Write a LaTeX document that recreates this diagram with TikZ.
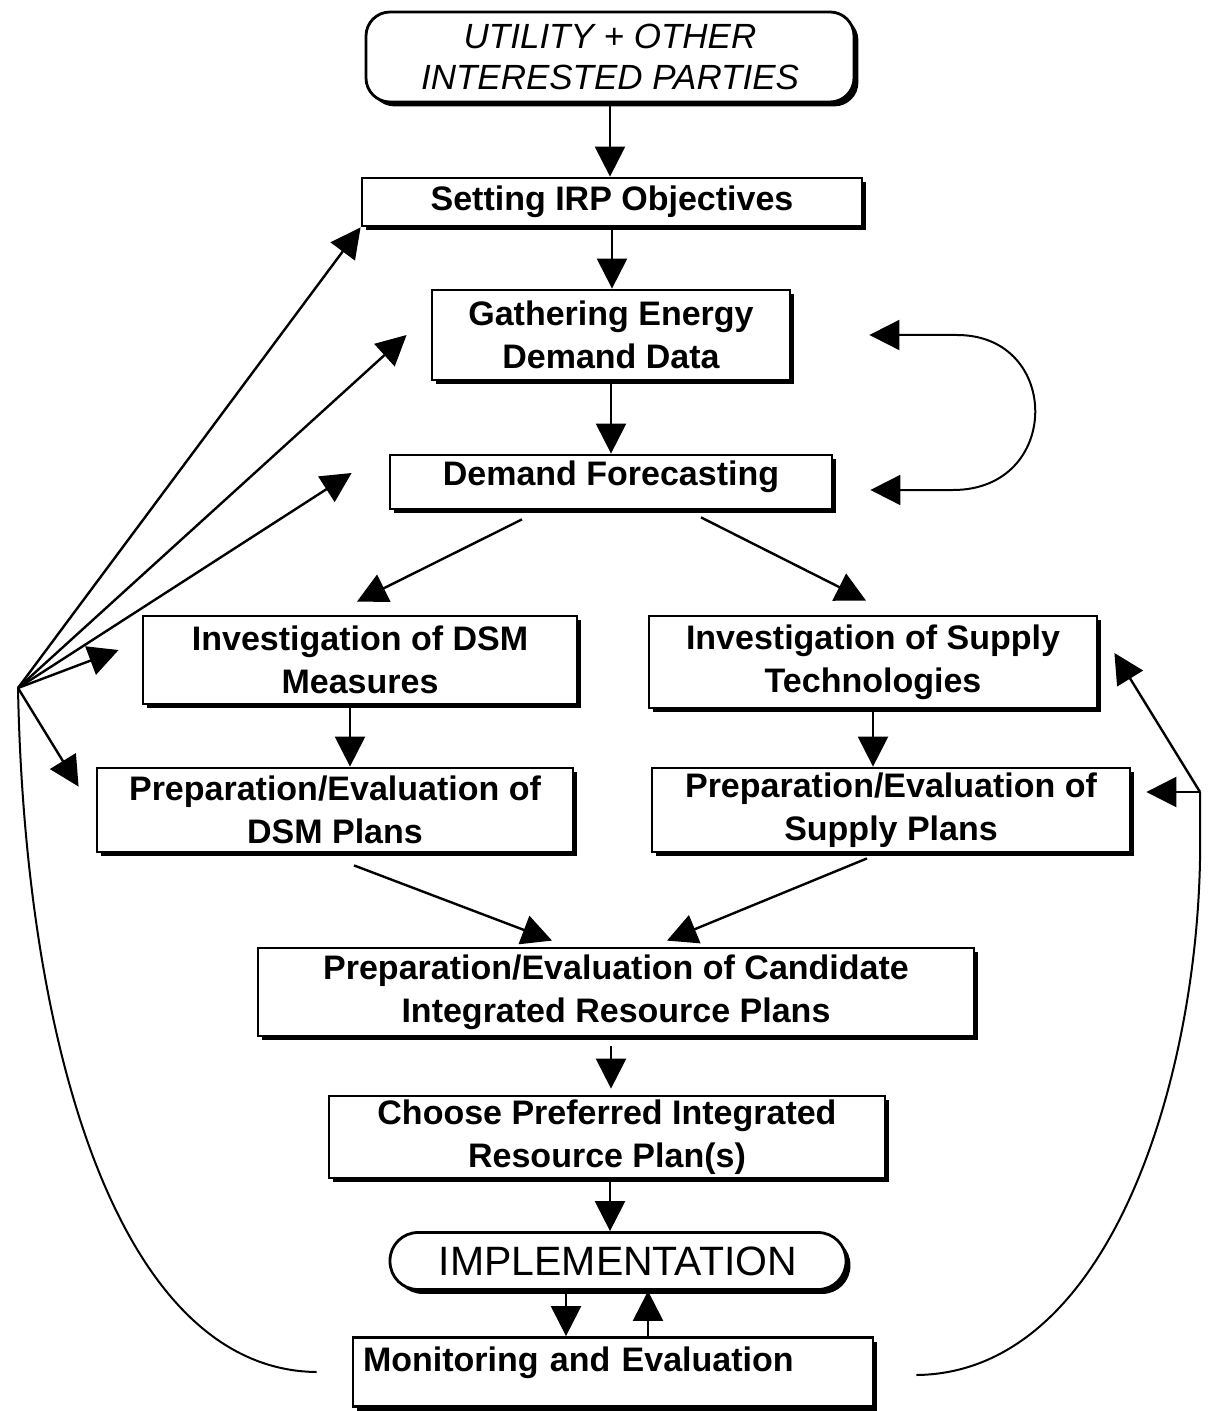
\documentclass[tikz,border=0pt]{standalone}
\usepackage{fontspec}
\setmainfont{Liberation Sans}
\usetikzlibrary{arrows.meta,calc,shadows}

\tikzset{
  stage/.style={draw, line width=1.4pt, fill=white, inner sep=0pt, align=center,
    font=\bfseries\fontsize{17}{21.5}\selectfont,
    drop shadow={shadow xshift=2.2pt, shadow yshift=-2.2pt, opacity=1, fill=black}},
  party/.style={stage, rounded corners=12pt, font=\itshape\fontsize{17.5}{20.5}\selectfont},
  flow/.style={-{Triangle[length=15pt,width=15pt]}, line width=1.2pt},
  loop/.style={line width=1pt}
}

\begin{document}
\begin{tikzpicture}[x=0.5pt,y=-0.5pt]
  \useasboundingbox (0,0) rectangle (1210,1411);

  % the stages
  \node[party, minimum width=244pt, minimum height=45pt] (util) at (610,57) {UTILITY + OTHER\\INTERESTED PARTIES};
  \node[stage, minimum width=250pt, minimum height=24pt] (set) at (612,202) {Setting IRP Objectives};
  \node[stage, minimum width=179pt, minimum height=45pt] (gath) at (611,335) {Gathering Energy\\Demand Data};
  \node[stage, minimum width=221pt, minimum height=27pt, text depth=9.3pt] (fore) at (611,482) {Demand Forecasting};
  \node[stage, minimum width=217pt, minimum height=44pt] (dsm) at (360,660) {Investigation of DSM\\Measures};
  \node[stage, minimum width=224pt, minimum height=46pt] (sup) at (873,662) {Investigation of Supply\\Technologies};
  \node[stage, minimum width=238pt, minimum height=42pt] (pdsm) at (335,810) {Preparation/Evaluation of\\DSM Plans};
  \node[stage, minimum width=239pt, minimum height=42pt] (psup) at (891,810) {Preparation/Evaluation of\\Supply Plans};
  \node[stage, minimum width=358pt, minimum height=44pt] (cand) at (616,992) {Preparation/Evaluation of Candidate\\Integrated Resource Plans};
  \node[stage, minimum width=278pt, minimum height=41pt] (choose) at (607,1137) {Choose Preferred Integrated\\Resource Plan(s)};
  \node[stage, rounded corners=14pt, minimum width=228pt, minimum height=28.5pt,
        font=\fontsize{20.5}{24}\selectfont] (impl) at (618,1261) {IMPLEMENTATION};
  \node[stage, minimum width=260pt, minimum height=34.5pt, inner xsep=5pt, text width=250pt,
        align=left, text depth=12.8pt] (mon) at (613,1372) {Monitoring and Evaluation};

  % main flow
  \draw[flow] (util.south) -- (util.south |- set.north);
  \draw[flow] (set.south) -- (set.south |- gath.north);
  \draw[flow] (gath.south) -- (gath.south |- fore.north);
  \draw[flow] ($(fore.south)+(-89,9)$) -- ($(dsm.north)+(-3,-13)$);
  \draw[flow] ($(fore.south)+(90,7)$) -- ($(sup.north)+(-7,-14)$);
  \coordinate (dsmout) at ([xshift=-5pt]dsm.south);
  \draw[flow] (dsmout) -- (dsmout |- pdsm.north);
  \draw[flow] (sup.south) -- (sup.south |- psup.north);
  \draw[flow] ($(pdsm.south)+(19,12)$) -- ($(cand.north)+(-64,-6)$);
  \draw[flow] ($(psup.south)+(-24,5)$) -- ($(cand.north)+(51,-6)$);
  \draw[flow] ($(cand.south)+(-5,9)$) -- ($(choose.north)+(4,-6)$);
  \draw[flow] ($(choose.south)+(3,0)$) -- ($(impl.north)+(-8,0)$);
  \draw[flow] ($(impl.south)+(-52,0)$) -- ($(mon.north)+(-47,0)$);
  \draw[flow] ($(mon.north)+(35,0)$) -- ($(impl.south)+(30,0)$);

  % feedback from monitoring, left side
  \coordinate (hub) at (18,688);
  \draw[flow] (hub) -- (set.south west);
  \draw[flow] (hub) -- ($(gath.west)+(-24,0)$);
  \draw[flow] (hub) -- ($(fore.west)+(-37,-9)$);
  \draw[flow] (hub) -- ($(dsm.west)+(-23,-10)$);
  \draw[flow] (hub) -- ($(pdsm.north west)+(-17,20)$);
  \draw[loop] (hub) .. controls (25,1050) and (120,1370) .. ($(mon.west)+(-35,0)$);

  % feedback from monitoring, right side
  \coordinate (rhub) at (1200,792);
  \draw[flow] (rhub) -- ($(psup.east)+(15,-18)$);
  \draw[flow] (rhub) -- ($(sup.east)+(16,-9)$);
  \draw[loop] ($(mon.east)+(42,3)$) .. controls (1110,1373) and (1196,1080) .. (1200,860) -- (rhub);

  % loop between data and forecast
  \draw[loop, {Triangle[length=15pt,width=15pt]}-{Triangle[length=15pt,width=15pt]}]
    ($(gath.east)+(78,0)$) -- (957,335) .. controls (1062,335) and (1062,490) .. (953,490)
    -- ($(fore.east)+(37,8)$);
\end{tikzpicture}
\end{document}
